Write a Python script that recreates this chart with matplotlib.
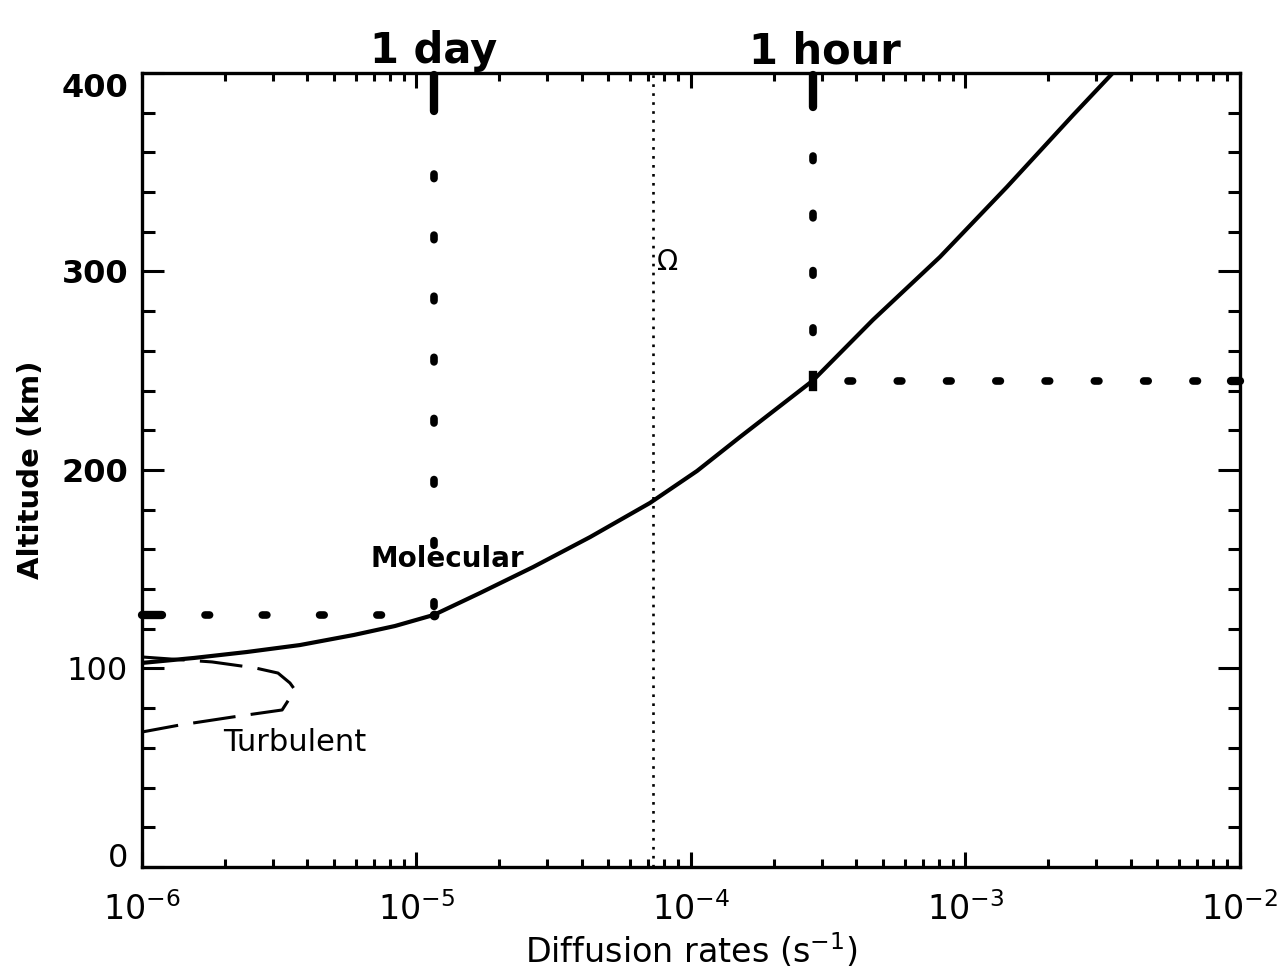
import matplotlib.pyplot as plt
import numpy as np
from matplotlib.ticker import MultipleLocator, LogLocator
import matplotlib.transforms as mtransforms

day_rate = 1.0 / 86400
hour_rate = 1.0 / 3600
omega = 7.27e-5
day_alt = 127
hour_alt = 245

# molecular diffusion rate vs altitude
mol_rate = [1.0e-6, 1.546e-6, 2.41e-6, 3.76e-6, 5.92e-6, 8.35e-6, day_rate,
            1.703e-5, 2.66e-5, 4.29e-5, 7.09e-5, 1.052e-4, 1.508e-4, hour_rate,
            4.6e-4, 8.07e-4, 1.416e-3, 2.466e-3, 3.44e-3]
mol_alt = [102.8, 105.3, 108.3, 111.8, 116.9, 121.4, day_alt,
           138.0, 151.1, 166.2, 183.4, 199.5, 216.6, hour_alt,
           275.6, 307.3, 342.6, 378.8, 400.0]

# turbulent mixing rate (dashed)
turb_rate = [1.0e-6, 1.8e-6, 2.58e-6, 3.13e-6, 3.46e-6, 3.61e-6, 3.24e-6,
             2.15e-6, 1.37e-6, 1.0e-6]
turb_alt = [105.8, 103.3, 100.3, 97.7, 92.7, 89.2, 79.1, 75.6, 71.5, 68.0]

xmin, xmax = 1e-6, 1e-2
ymin, ymax = 0, 400
y_ticks = [0, 100, 200, 300, 400]
y_bold = [200, 300, 400]

plt.rcParams['font.family'] = ['DejaVu Sans']
plt.rcParams['mathtext.default'] = 'regular'

fig = plt.figure(figsize=(12.86, 9.76), dpi=100)
ax = fig.add_axes([0.1104, 0.1117, 0.8538, 0.8135])

ax.set_xscale('log')
ax.set_xlim(xmin, xmax)
ax.set_ylim(ymin, ymax)

# curves
ax.plot(mol_rate, mol_alt, color='black', lw=3.0, solid_joinstyle='round')
ax.plot(turb_rate, turb_alt, color='black', lw=2.2,
        linestyle=(0, (14, 5)), dash_capstyle='butt')

# rotation rate
ax.axvline(omega, color='black', lw=1.9, linestyle=(0, (1, 2.4)))
ax.text(omega * 1.03, 305, r'$\Omega$', fontsize=20, va='center', ha='left')

# 1 day / 1 hour markers
dot_kw = dict(color='black', lw=5.5, dash_capstyle='round', clip_on=False)
ax.plot([day_rate, day_rate], [349, day_alt], linestyle=(0, (0.6, 7.4)), **dot_kw)
ax.plot([1.7e-6, day_rate], [day_alt, day_alt], linestyle=(0, (0.6, 6.9)), **dot_kw)
ax.plot([hour_rate, hour_rate], [358, hour_alt], linestyle=(0, (0.6, 6.9)), **dot_kw)
ax.plot([3.73e-4, xmax * 0.9], [hour_alt, hour_alt], linestyle=(0, (0.6, 5.85)), **dot_kw)

bar_kw = dict(color='black', lw=6, solid_capstyle='round', clip_on=False)
ax.plot([day_rate, day_rate], [399, 381], **bar_kw)
ax.plot([hour_rate, hour_rate], [399, 383], **bar_kw)
ax.plot([xmin, xmin * 1.18], [day_alt, day_alt], **bar_kw)
ax.plot([xmax * 0.93, xmax], [hour_alt, hour_alt], **bar_kw)
ax.plot([day_rate], [day_alt], 'o', color='black', ms=6)
ax.plot([hour_rate, hour_rate], [hour_alt - 3, hour_alt + 3], color='black', lw=6)

trans = mtransforms.blended_transform_factory(ax.transData, ax.transAxes)
ax.text(day_rate, 1.012, '1 day', transform=trans, ha='center', va='baseline',
        fontsize=30, fontweight='bold')
ax.text(hour_rate * 1.11, 1.012, '1 hour', transform=trans, ha='center', va='baseline',
        fontsize=30, fontweight='bold')

ax.text(1.29e-5, 155, 'Molecular', fontsize=20, fontweight='bold', ha='center', va='center')
ax.text(3.6e-6, 62.5, 'Turbulent', fontsize=22, ha='center', va='center')

# axes styling
for sp in ax.spines.values():
    sp.set_linewidth(2.4)

ax.xaxis.set_major_locator(LogLocator(base=10, numticks=10))
ax.xaxis.set_minor_locator(LogLocator(base=10, subs=np.arange(2, 10), numticks=10))
ax.yaxis.set_major_locator(MultipleLocator(100))
ax.yaxis.set_minor_locator(MultipleLocator(20))

ax.tick_params(which='both', direction='in', top=True, right=True, width=2.2)
ax.tick_params(axis='x', which='major', length=11, pad=18, labelsize=24)
ax.tick_params(axis='x', which='minor', length=6)
ax.tick_params(axis='y', which='major', length=16, pad=10, labelsize=23)
ax.tick_params(axis='y', which='minor', length=9)

ax.set_yticks(y_ticks)
ax.set_yticklabels([str(v) for v in y_ticks])
for lab, v in zip(ax.get_yticklabels(), y_ticks):
    if v in y_bold:
        lab.set_fontweight('bold')
    if v == ymax:
        lab.set_va('top')
    if v == ymin:
        lab.set_va('baseline')

ax.set_xlabel(r'Diffusion rates (s$^{-1}$)', fontsize=24, labelpad=3)
ax.set_ylabel('Altitude (km)', fontsize=21, fontweight='bold', labelpad=12)

fig.savefig('out.png', dpi=100)
